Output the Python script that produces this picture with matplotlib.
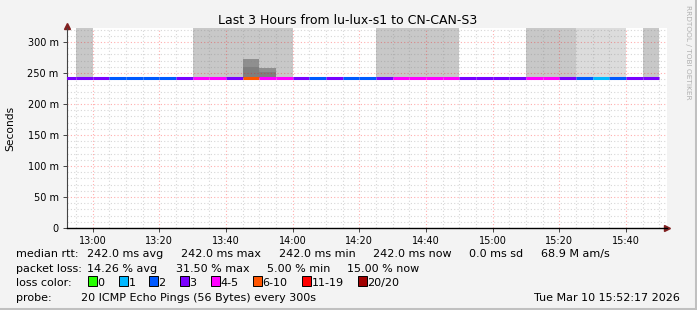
import numpy as np
import matplotlib
matplotlib.use("Agg")
import matplotlib.pyplot as plt
from matplotlib.patches import Rectangle

# 5 minute steps, minutes after 12:00
step_start = [50 + 5 * i for i in range(36)]
median_ms = [242.0] * 36
loss = [3, 3, 3, 2, 2, 2, 2, 3, 5, 4, 3, 6, 5, 4, 3, 2, 3, 2,
        2, 3, 4, 4, 5, 4, 3, 3, 3, 3, 4, 4, 3, 2, 1, 2, 3, 3]
# 0 = no smoke, 1 = gray smoke, 2 = light smoke (all reaching past the top)
smoke = [0, 1, 0, 0, 0, 0, 0, 0, 1, 1, 1, 1, 1, 1, 0, 0, 0, 0,
         0, 1, 1, 1, 1, 1, 0, 0, 0, 0, 1, 1, 1, 2, 2, 2, 0, 1]
# darker smoke layers (step start, upper top, lower top) in ms
dark_steps = [105, 110]
dark_upper = [272, 258]
dark_lower = [260, 251]

loss_labels = ["0", "1", "2", "3", "4-5", "6-10", "11-19", "20/20"]
loss_colors = ["#26ff00", "#00b8ff", "#0059ff", "#7a00ff",
               "#ff00ff", "#ff5500", "#ff0000", "#a00000"]

xtick_min = [60, 80, 100, 120, 140, 160, 180, 200, 220]
xtick_lab = ["13:00", "13:20", "13:40", "14:00", "14:20",
             "14:40", "15:00", "15:20", "15:40"]
ytick_ms = [0, 50, 100, 150, 200, 250, 300]
ytick_lab = ["0", "50 m", "100 m", "150 m", "200 m", "250 m", "300 m"]


def loss_color(n):
    if n <= 3:
        return loss_colors[n]
    if n <= 5:
        return loss_colors[4]
    if n <= 10:
        return loss_colors[5]
    if n <= 19:
        return loss_colors[6]
    return loss_colors[7]


W, H = 697, 310
fig = plt.figure(figsize=(W / 100, H / 100), dpi=100, facecolor="#f3f3f3")
plt.rcParams["font.family"] = "DejaVu Sans"

def px(x, y):
    return x / W, 1 - y / H

ax = fig.add_axes([67 / W, 1 - 228 / H, 600 / W, 200 / H])
x0 = 52 + 17 / 60
ax.set_xlim(x0, x0 + 180)
ax.set_ylim(0, 322.6)
ax.set_facecolor("white")

for s, sm in zip(step_start, smoke):
    if sm:
        c = "#c8c8c8" if sm == 1 else "#dcdcdc"
        ax.add_patch(Rectangle((s, 242), 5, 100, color=c, lw=0, zorder=1))
for s, up, lo in zip(dark_steps, dark_upper, dark_lower):
    ax.add_patch(Rectangle((s, 242), 5, up - 242, color="#8f8f8f", lw=0, zorder=1.1))
    ax.add_patch(Rectangle((s, 242), 5, lo - 242, color="#7f7f7f", lw=0, zorder=1.2))

# grid, semi transparent like rrdtool
minor_c = (0.5, 0.5, 0.5, 0.32)
major_c = (1.0, 0.0, 0.0, 0.32)
for m in range(55, 235, 5):
    ax.axvline(m, color=major_c if m % 20 == 0 else minor_c, lw=0.8,
               ls=(0, (1, 2)), zorder=2)
for v in range(10, 330, 10):
    ax.axhline(v, color=major_c if v % 50 == 0 else minor_c, lw=0.8,
               ls=(0, (1, 2)), zorder=2)

for s, m, n in zip(step_start, median_ms, loss):
    ax.plot([s, s + 5], [m, m], color=loss_color(n), lw=2.2,
            solid_capstyle="butt", zorder=3)

for sp in ["top", "right"]:
    ax.spines[sp].set_visible(False)
ax.spines["left"].set_color("#444444")
ax.spines["left"].set_linewidth(0.8)
ax.spines["bottom"].set_color("black")
ax.spines["bottom"].set_linewidth(1.0)
ax.plot([0], [1.01], marker="^", color="#802020", ms=4, transform=ax.transAxes, clip_on=False)
ax.plot([1.0], [0], marker=">", color="#802020", ms=4, transform=ax.transAxes, clip_on=False)

ax.set_xticks(xtick_min)
ax.set_xticklabels(xtick_lab, fontsize=7.0)
ax.set_yticks(ytick_ms)
ax.set_yticklabels(ytick_lab, fontsize=7.0)
ax.tick_params(axis="both", length=3, width=0.7, color="#444444", pad=3)
ax.set_ylabel("Seconds", fontsize=7.7, labelpad=9)

fig.text(*px(347.5, 20), "Last 3 Hours from lu-lux-s1 to CN-CAN-S3",
         fontsize=9.0, ha="center", va="center")
fig.text(*px(688, 5), "RRDTOOL / TOBI OETIKER", fontsize=5.3, color="#b0b0b0",
         rotation=270, ha="center", va="top")

fs = 8.0
rows = [
    (254, [(16, "median rtt:"), (87, "242.0 ms avg"), (181, "242.0 ms max"),
           (279, "242.0 ms min"), (373, "242.0 ms now"), (469, "0.0 ms sd"),
           (541, "68.9 M am/s")]),
    (269, [(16, "packet loss:"), (87, "14.26 % avg"), (176, "31.50 % max"),
           (267, "5.00 % min"), (347, "15.00 % now")]),
    (283, [(16, "loss color:")]),
    (298, [(16, "probe:"), (81, "20 ICMP Echo Pings (56 Bytes) every 300s")]),
]
for y, items in rows:
    for x, t in items:
        fig.text(*px(x, y), t, fontsize=fs, ha="left", va="center")
fig.text(*px(680, 298), "Tue Mar 10 15:52:17 2026", fontsize=fs, ha="right", va="center")

box_x = [88, 119, 149, 180, 211, 253, 302, 358]
for bx, lab, c in zip(box_x, loss_labels, loss_colors):
    fig.patches.append(Rectangle(px(bx, 286), 9 / W, 10 / H, facecolor=c,
                                 edgecolor="black", lw=0.7, transform=fig.transFigure))
    fig.text(*px(bx + 9.5, 283), lab, fontsize=fs, ha="left", va="center")

# frame shadow
fig.add_artist(plt.Line2D([1 - 1.5 / W, 1 - 1.5 / W], [0, 1], color="#c0c0c0", lw=2.2,
                          transform=fig.transFigure))
fig.add_artist(plt.Line2D([0, 1], [1.5 / H, 1.5 / H], color="#c0c0c0", lw=2.2,
                          transform=fig.transFigure))

fig.savefig("out.png", dpi=100, facecolor=fig.get_facecolor())
